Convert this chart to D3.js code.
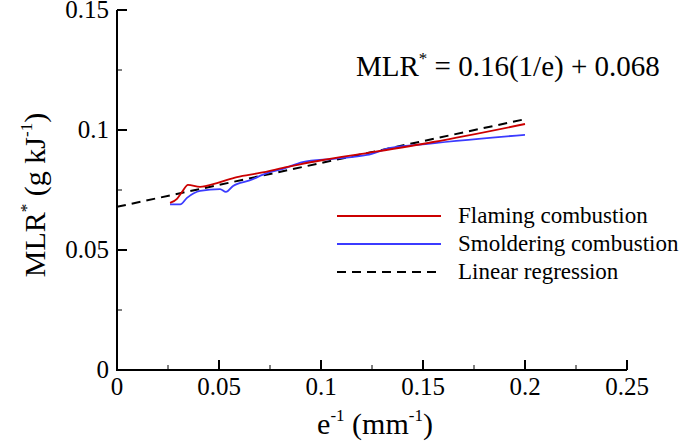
<!DOCTYPE html>
<html>
<head>
<meta charset="utf-8">
<script src="https://cdn.jsdelivr.net/npm/d3@7"></script>
<style>
  body { margin: 0; background: #fff; }
</style>
</head>
<body>
<div id="chart"></div>
<script>
// ---------------------------------------------------------------------------------
// data
const flaming = [
  [0.026, 0.0696], [0.0294, 0.0713], [0.0319, 0.0742], [0.0348, 0.0771],
  [0.0407, 0.0763], [0.049, 0.0779], [0.0588, 0.0804], [0.070, 0.0821],
  [0.0814, 0.0842], [0.0897, 0.0857], [0.101, 0.0875], [0.1225, 0.0904],
  [0.155, 0.095], [0.2, 0.1025]
];
const smoldering = [
  [0.026, 0.069], [0.031, 0.069], [0.0343, 0.0717], [0.0407, 0.0746],
  [0.0505, 0.0754], [0.0534, 0.0742], [0.0569, 0.0767], [0.065, 0.079],
  [0.0735, 0.082], [0.0814, 0.0838], [0.091, 0.0866], [0.106, 0.088],
  [0.1225, 0.0896], [0.134, 0.0925], [0.147, 0.0938], [0.2, 0.098]
];
const regression = [[0, 0.068], [0.2, 0.1045]];

const x_ticks = [0, 0.05, 0.1, 0.15, 0.2, 0.25];
const y_ticks = [0, 0.05, 0.1, 0.15];
const legend_names = ["Flaming combustion", "Smoldering combustion", "Linear regression"];

// ---------------------------------------------------------------------------------
const W = 681, H = 445;
const X0 = 117, X1 = 627, Y0 = 370, Y1 = 10;
const COLOR_RED = "#cc0000", COLOR_BLUE = "#3b3bff";
const FONT = "'Liberation Serif', 'Times New Roman', 'DejaVu Serif', serif";

let svg = d3.select("#chart").append("svg")
              .attr("width", W)
              .attr("height", H)
              .attr("font-family", FONT);

let scaleX = d3.scaleLinear().domain([0, 0.25]).range([X0, X1]);
let scaleY = d3.scaleLinear().domain([0, 0.15]).range([Y0, Y1]);

// minor ticks
svg.selectAll(".mx").data(d3.range(0.025, 0.25, 0.05)).enter().append("line")
    .attr("x1", d => scaleX(d)).attr("x2", d => scaleX(d))
    .attr("y1", Y0).attr("y2", Y0 - 5)
    .attr("stroke", "#000").attr("stroke-width", 1);
svg.selectAll(".my").data(d3.range(0.025, 0.15, 0.05)).enter().append("line")
    .attr("y1", d => scaleY(d)).attr("y2", d => scaleY(d))
    .attr("x1", X0).attr("x2", X0 + 5)
    .attr("stroke", "#000").attr("stroke-width", 1);

// major ticks
svg.selectAll(".tx").data(x_ticks).enter().append("line")
    .attr("x1", d => scaleX(d)).attr("x2", d => scaleX(d))
    .attr("y1", Y0).attr("y2", Y0 - 10)
    .attr("stroke", "#000").attr("stroke-width", 2);
svg.selectAll(".ty").data(y_ticks).enter().append("line")
    .attr("y1", d => scaleY(d)).attr("y2", d => scaleY(d))
    .attr("x1", X0).attr("x2", X0 + 10)
    .attr("stroke", "#000").attr("stroke-width", 2);

// axis lines
svg.append("path")
    .attr("d", `M${X0},${Y1}V${Y0}H${X1}`)
    .attr("fill", "none").attr("stroke", "#000").attr("stroke-width", 2);

// tick labels
svg.selectAll(".lx").data(x_ticks).enter().append("text")
    .attr("x", d => scaleX(d)).attr("y", Y0 + 25)
    .attr("text-anchor", "middle").attr("font-size", 25)
    .text(d => d3.format("")(d));
svg.selectAll(".ly").data(y_ticks).enter().append("text")
    .attr("x", X0 - 8).attr("y", d => scaleY(d) + 8)
    .attr("text-anchor", "end").attr("font-size", 25)
    .text(d => d3.format("")(d));

// ---------------------------------------------------------------------------------
let line = d3.line()
    .x(d => scaleX(d[0]))
    .y(d => scaleY(d[1]))
    .curve(d3.curveMonotoneX);

svg.append("path").attr("d", line(regression))
    .attr("fill", "none").attr("stroke", "#000").attr("stroke-width", 2)
    .attr("stroke-dasharray", "9,6");
svg.append("path").attr("d", line(smoldering))
    .attr("fill", "none").attr("stroke", COLOR_BLUE).attr("stroke-width", 1.8);
svg.append("path").attr("d", line(flaming))
    .attr("fill", "none").attr("stroke", COLOR_RED).attr("stroke-width", 1.8);

// ---------------------------------------------------------------------------------
// legend
let legend_styles = [
  { color: COLOR_RED, dash: null },
  { color: COLOR_BLUE, dash: null },
  { color: "#000", dash: "9,6" }
];
legend_names.forEach(function (name, i) {
  let y = 216 + i * 28;
  svg.append("line")
      .attr("x1", 337).attr("x2", 441).attr("y1", y).attr("y2", y)
      .attr("stroke", legend_styles[i].color)
      .attr("stroke-width", legend_styles[i].dash ? 2 : 1.8)
      .attr("stroke-dasharray", legend_styles[i].dash);
  svg.append("text")
      .attr("x", 458).attr("y", y + 7)
      .attr("font-size", 23)
      .text(name);
});

// equation
{
  let t = svg.append("text").attr("x", 356).attr("y", 76).attr("font-size", 29);
  t.append("tspan").text("MLR");
  t.append("tspan").attr("font-size", 17).attr("dy", -12).text("*");
  t.append("tspan").attr("dy", 12).text(" = 0.16(1/e) + 0.068");
}

// axis titles
{
  let t = svg.append("text")
      .attr("text-anchor", "middle").attr("font-size", 30)
      .attr("x", 375).attr("y", 434);
  t.append("tspan").text("e");
  t.append("tspan").attr("font-size", 17).attr("dy", -13).text("-1");
  t.append("tspan").attr("dy", 13).text(" (mm");
  t.append("tspan").attr("font-size", 17).attr("dy", -13).text("-1");
  t.append("tspan").attr("dy", 13).text(")");
}
{
  let t = svg.append("text")
      .attr("text-anchor", "middle").attr("font-size", 30)
      .attr("transform", "translate(45,195) rotate(-90)");
  t.append("tspan").text("MLR");
  t.append("tspan").attr("font-size", 17).attr("dy", -13).text("*");
  t.append("tspan").attr("dy", 13).text(" (g kJ");
  t.append("tspan").attr("font-size", 17).attr("dy", -13).text("-1");
  t.append("tspan").attr("dy", 13).text(")");
}
</script>
</body>
</html>
